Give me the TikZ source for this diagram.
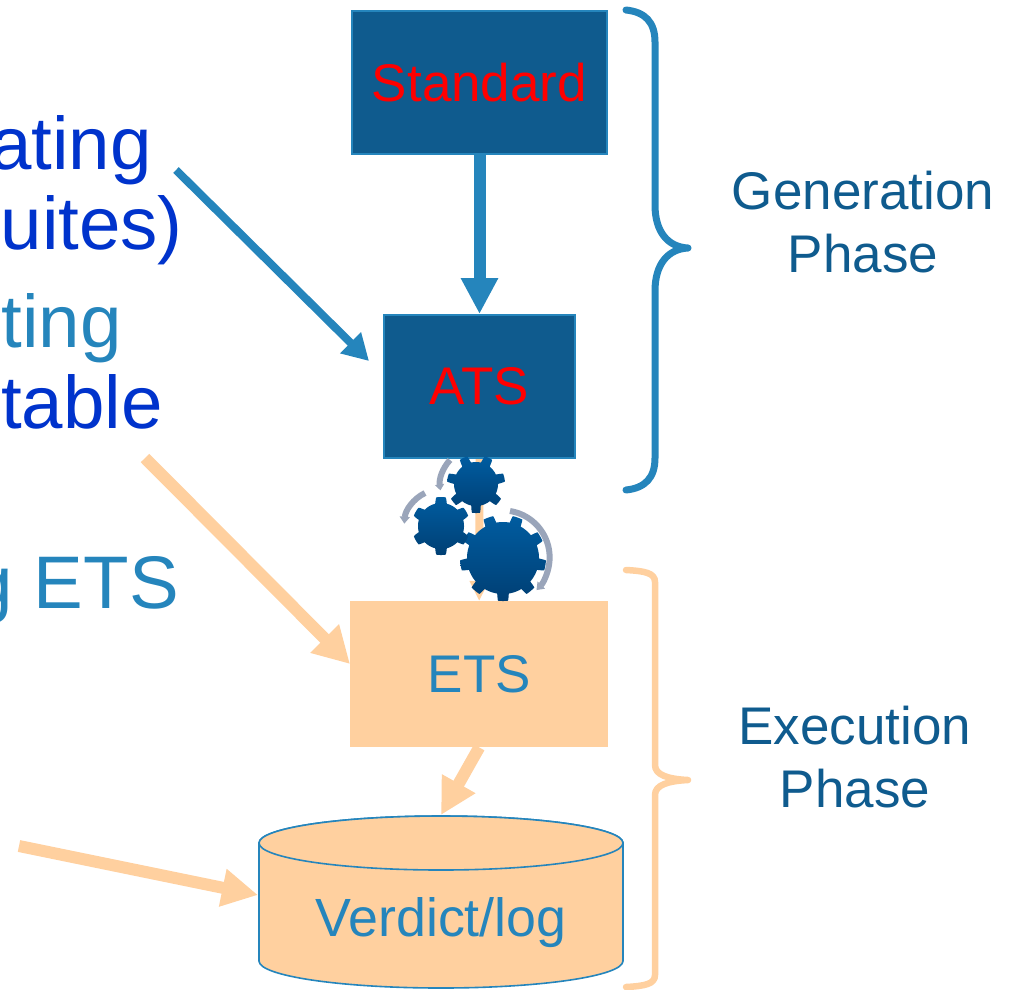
\documentclass[tikz,border=0pt]{standalone}
\usepackage{fontspec}
\setmainfont{Liberation Sans}
\usetikzlibrary{arrows.meta}
\definecolor{navy}{HTML}{0F5B8E}
\definecolor{midblue}{HTML}{2585BC}
\definecolor{peach}{HTML}{FFD09F}
\definecolor{royal}{HTML}{0033CC}
\definecolor{arcgrey}{HTML}{9AA5BA}
\definecolor{geartop}{HTML}{005CA0}
\definecolor{gearbot}{HTML}{003F74}
\newcommand{\fs}[1]{\fontsize{#1pt}{63pt}\selectfont}
\tikzset{
  darkbox/.style={draw=midblue,line width=2pt,fill=navy,text=red,font=\fs{53},inner sep=0pt,anchor=north west},
  peachbox/.style={fill=peach,text=midblue,font=\fs{53},inner sep=0pt,anchor=north west},
  phase/.style={text=navy,font=\fs{53},align=center,inner sep=0pt},
  leftdark/.style={text=royal,font=\fs{74.5},inner sep=0pt,anchor=base east},
  leftmid/.style={text=midblue,font=\fs{74.5},inner sep=0pt,anchor=base east},
  bluearrow/.style={draw=midblue,line width=#1},
  peacharrow/.style={draw=peach,line width=#1},
  curlyblue/.style={draw=midblue,line width=7pt,line cap=round,line join=round},
  curlypeach/.style={draw=peach,line width=6.5pt,line cap=round,line join=round},
  geartone/.style={top color=geartop,bottom color=gearbot,draw=none},
  turn/.style={draw=arcgrey,line width=6pt},
}
\newcommand{\gear}[7]{% cx cy body outer teeth slope samples
  \path[geartone] plot[samples=#7,domain=0:360]
   ({#1+(#3+(#4-#3)*min(1,max(0,0.5+#6*(cos(#5*(\x-90))-0.3))))*cos(\x)},
    {#2+(#3+(#4-#3)*min(1,max(0,0.5+#6*(cos(#5*(\x-90))-0.3))))*sin(\x)}) -- cycle;
}
\begin{document}
\begin{tikzpicture}[x=1pt,y=-1pt]
\useasboundingbox (0,0) rectangle (1009,989);
% left text
\node[leftdark] (t1) at (152,169) {ating};
\node[leftdark] (t2) at (183,249) {uites)};
\node[leftmid]  (t3) at (122,347) {ting};
\node[leftdark] (t4) at (163,428) {table};
\node[leftmid]  (t5) at (179,608) {g ETS};
% boxes
\node[darkbox,minimum width=255pt,minimum height=143pt] (std) at (351,10) {Standard};
\node[darkbox,minimum width=191pt,minimum height=143pt] (ats) at (383,314) {ATS};
\node[peachbox,minimum width=258pt,minimum height=146pt] (ets) at (350,601) {ETS};
% cylinder
\path[fill=peach,draw=midblue,line width=1.6pt] (259,843) -- (259,961) arc[start angle=180,end angle=360,x radius=182,y radius=-27] -- (623,843) arc[start angle=0,end angle=180,x radius=182,y radius=-27] -- cycle;
\path[fill=peach,draw=midblue,line width=1.6pt] (441,843) ellipse[x radius=182,y radius=27];
\node[text=midblue,font=\fs{53.8},inner sep=0pt,minimum width=364pt,minimum height=118pt] (log) at (441,923) {Verdict/log};
% free ends
\coordinate (a1) at (176,170);
\coordinate (a1e) at (369,361);
\coordinate (a2) at (145,458);
\coordinate (a2e) at (350,664);
\coordinate (a4) at (19,846);
\coordinate (a4e) at (258,895);
\coordinate (a3e) at (441,815);
% connectors
\draw[bluearrow=12pt,-{Triangle[length=36pt,width=35pt]}] (std.south) -- (ats.north);
\draw[bluearrow=8pt,-{Triangle[length=26pt,width=28pt]}] (a1) -- (a1e);
\draw[peacharrow=12pt,-{Triangle[length=36pt,width=38pt]}] (a2) -- (a2e);
\draw[peacharrow=12pt,-{Triangle[length=36pt,width=36pt]}] (ets.south) -- (a3e);
\draw[peacharrow=12pt,-{Triangle[length=36pt,width=36pt]}] (a4) -- (a4e);
\draw[peacharrow=8pt,-{Triangle[length=20pt,width=18pt]}] (ats.south) -- (ets.north);
% gears
\gear{503}{558}{36}{43}{9}{3}{541}
\gear{441}{526}{23}{29}{6}{2}{361}
\gear{476}{484}{22}{29}{7}{2}{361}
% turning arcs
\draw[turn,-{Triangle[length=7pt,width=10pt]}] (510,511) arc[start angle=-81,end angle=44,radius=47];
\draw[turn,-{Triangle[length=7pt,width=10pt]}] (425,493) arc[start angle=-116,end angle=-176,radius=37];
\draw[turn,-{Triangle[length=6pt,width=9pt]}] (450,460) arc[start angle=-137,end angle=-188,radius=37];
% braces
\draw[curlyblue] (626,10) .. controls (645,12) and (655,22) .. (655,42) -- (655,205) .. controls (655,232) and (668,247) .. (688,248) .. controls (668,249) and (655,264) .. (655,291) -- (655,458) .. controls (655,478) and (645,488) .. (626,490);
\draw[curlypeach] (626,570) .. controls (645,571) and (655,573) .. (655,582) -- (655,765) .. controls (655,775) and (668,779) .. (688,780) .. controls (668,781) and (655,785) .. (655,795) -- (655,975) .. controls (655,984) and (645,986) .. (626,987);
% phase labels
\node[phase] (gen) at (863,222) {Generation\\Phase};
\node[phase] (exe) at (855,757) {Execution\\Phase};
\end{tikzpicture}
\end{document}
